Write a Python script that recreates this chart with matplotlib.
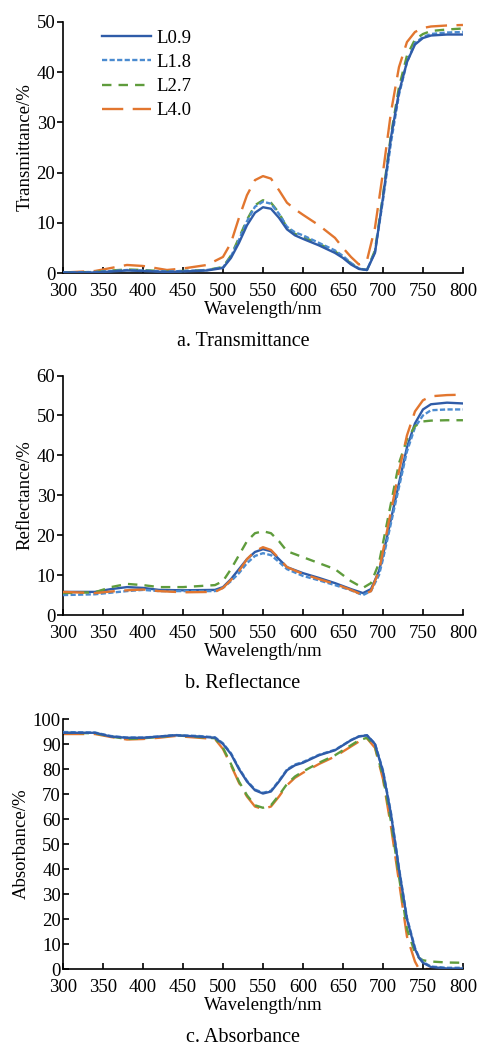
import numpy as np
from matplotlib import pyplot as plt

plt.rcParams['font.family'] = ['Liberation Serif', 'DejaVu Serif']

labels = ['L0.9', 'L1.8', 'L2.7', 'L4.0']
colors = ['#2f5ca8', '#4b8bd0', '#5f9c3c', '#e2762f']
dashes = [None, (2.2, 1.0), (4, 3), (9, 4)]

# transmittance
wl_t = [300, 340, 360, 380, 400, 430, 450, 480, 500, 510, 520, 530, 540, 550, 560, 570, 580, 590, 600,
        620, 640, 650, 660, 670, 680, 690, 700, 710, 720, 730, 740, 750, 760, 780, 800]
t_09 = [0.1, 0.1, 0.3, 0.5, 0.4, 0.2, 0.3, 0.5, 1.0, 3.0, 6.0, 9.5, 12.0, 13.1, 12.8, 11.0, 8.7, 7.5, 6.8,
        5.5, 4.0, 3.0, 1.7, 0.8, 0.6, 4.0, 15.0, 27.0, 36.0, 42.0, 45.5, 46.8, 47.3, 47.5, 47.5]
t_18 = [0.1, 0.2, 0.4, 0.6, 0.5, 0.3, 0.4, 0.6, 1.1, 3.3, 6.6, 10.3, 13.2, 14.2, 13.8, 11.8, 9.2, 8.1, 7.5,
        6.0, 4.5, 3.4, 2.0, 0.9, 0.6, 4.2, 14.5, 26.0, 35.5, 42.0, 45.8, 47.0, 47.6, 47.9, 48.0]
t_27 = [0.1, 0.2, 0.5, 0.7, 0.6, 0.3, 0.4, 0.6, 1.2, 3.5, 7.0, 10.6, 13.5, 14.5, 14.0, 12.0, 9.0, 7.8, 7.2,
        5.8, 4.3, 3.2, 1.9, 0.9, 0.6, 4.5, 15.5, 27.5, 37.0, 43.3, 46.5, 47.6, 48.2, 48.5, 48.7]
t_40 = [0.1, 0.4, 1.0, 1.6, 1.4, 0.6, 0.9, 1.6, 3.2, 6.0, 11.0, 15.5, 18.5, 19.3, 18.8, 16.5, 14.0, 12.7, 11.6,
        9.5, 7.0, 5.0, 3.2, 1.7, 2.5, 9.0, 20.0, 32.0, 41.0, 46.0, 48.0, 48.8, 49.1, 49.3, 49.4]

# reflectance
wl_r = [300, 340, 360, 380, 400, 420, 450, 490, 500, 510, 520, 530, 540, 550, 560, 570, 580, 600, 620, 640,
        660, 675, 685, 695, 700, 710, 720, 730, 740, 750, 760, 780, 800]
r_09 = [5.8, 5.8, 6.5, 7.0, 6.8, 6.3, 6.2, 6.3, 7.0, 9.0, 11.5, 14.0, 15.8, 16.5, 16.0, 14.0, 12.0, 10.5, 9.3, 8.0,
        6.5, 5.5, 6.5, 11.0, 15.0, 24.0, 33.0, 42.0, 48.0, 51.5, 52.8, 53.2, 53.0]
r_18 = [5.0, 5.2, 5.6, 6.0, 6.3, 6.0, 6.0, 6.0, 6.8, 8.5, 10.5, 13.0, 14.8, 15.5, 15.0, 13.3, 11.5, 9.8, 8.7, 7.5,
        6.2, 5.0, 6.0, 10.0, 14.0, 23.0, 32.0, 41.0, 47.0, 50.0, 51.3, 51.5, 51.5]
r_27 = [5.5, 5.7, 7.0, 7.8, 7.5, 7.0, 7.0, 7.5, 8.5, 11.5, 15.0, 18.5, 20.5, 21.0, 20.5, 18.5, 16.0, 14.5, 13.0, 11.5,
        8.5, 6.8, 8.0, 13.0, 18.0, 28.0, 38.0, 44.0, 47.3, 48.5, 48.7, 48.8, 48.8]
r_40 = [5.8, 5.5, 5.9, 6.2, 6.4, 6.0, 5.7, 5.8, 6.8, 8.8, 11.0, 14.0, 16.0, 17.0, 16.3, 14.2, 12.0, 10.3, 9.0, 7.8,
        6.3, 5.0, 6.0, 11.0, 16.0, 26.0, 36.0, 45.0, 51.0, 53.8, 54.8, 55.1, 55.2]

# absorbance
wl_a = [300, 340, 360, 380, 400, 420, 440, 470, 490, 500, 510, 520, 530, 540, 550, 560, 570, 580, 590, 600,
        620, 640, 650, 660, 670, 680, 690, 700, 710, 720, 730, 740, 745, 750, 760, 780, 800]
a_09 = [94.5, 94.5, 93.0, 92.5, 92.5, 93.0, 93.5, 93.0, 92.5, 90.0, 86.0, 80.0, 75.0, 71.5, 70.2, 71.0, 75.0, 79.5, 81.5, 82.5,
        85.5, 87.5, 89.5, 91.5, 93.0, 93.5, 90.0, 79.0, 62.0, 40.0, 20.0, 8.0, 4.5, 2.5, 0.8, 0.2, 0.2]
a_18 = [94.8, 94.6, 93.2, 92.6, 92.6, 93.0, 93.6, 93.2, 92.7, 90.3, 86.3, 80.3, 75.3, 71.8, 70.5, 71.3, 75.3, 79.8, 81.8, 82.8,
        85.7, 87.7, 89.6, 91.6, 93.1, 93.5, 90.2, 79.5, 62.5, 40.5, 20.5, 8.5, 4.8, 2.8, 1.0, 0.5, 0.5]
a_27 = [94.5, 94.3, 93.0, 92.0, 92.3, 92.8, 93.5, 92.8, 92.3, 88.5, 82.0, 75.0, 69.5, 65.5, 64.5, 65.5, 69.5, 74.0, 77.0, 79.0,
        82.5, 85.5, 87.5, 89.5, 91.5, 92.5, 89.0, 77.0, 59.0, 37.0, 16.0, 6.5, 4.5, 3.5, 3.0, 2.6, 2.5]
a_40 = [94.0, 94.0, 92.8, 91.8, 92.0, 92.5, 93.2, 92.5, 92.0, 88.0, 81.5, 74.5, 69.0, 65.0, 64.0, 65.0, 69.0, 73.5, 76.5, 78.5,
        82.0, 85.0, 87.0, 89.0, 91.0, 92.3, 88.5, 76.0, 57.0, 35.0, 13.0, 3.0, 0.0, 0.0, 0.0, 0.0, 0.0]

H = 1046.0
panels = [
    (wl_t, [t_09, t_18, t_27, t_40], 'Transmittance/%', 'a. Transmittance', (0, 50), [0.1315, 0.739, 0.835, 0.240], 'out', 342),
    (wl_r, [r_09, r_18, r_27, r_40], 'Reflectance/%', 'b. Reflectance', (0, 60), [0.1315, 0.412, 0.835, 0.229], 'out', 683),
    (wl_a, [a_09, a_18, a_27, a_40], 'Absorbance/%', 'c. Absorbance', (0, 100), [0.1315, 0.0736, 0.835, 0.239], 'in', 1037),
]

fs = 13.5
fig = plt.figure(figsize=(4.79, 10.46), dpi=100)
for k, (wl, ys, ylab, cap, ylim, pos, ydir, capy) in enumerate(panels):
    ax = fig.add_axes(pos)
    order = [3, 2, 1, 0] if k == 0 else [0, 1, 2, 3]
    for i in order:
        ln, = ax.plot(wl, ys[i], color=colors[i], lw=1.7, label=labels[i], zorder=5 - i if k != 1 else 2 + i)
        if dashes[i] is not None:
            ln.set_dashes(dashes[i])
    ax.set_xlim(300, 800)
    ax.set_ylim(*ylim)
    ax.set_xticks(np.arange(300, 801, 50))
    ax.set_yticks(np.arange(ylim[0], ylim[1] + 1, 10))
    for s in ['top', 'right']:
        ax.spines[s].set_visible(False)
    ax.spines['left'].set_linewidth(1.2)
    ax.spines['bottom'].set_linewidth(1.2)
    ax.tick_params(axis='x', direction='in', length=4, width=1.2, labelsize=fs, pad=7)
    ax.tick_params(axis='y', direction=ydir, length=4, width=1.2, labelsize=fs, pad=1.5)
    ax.set_xlabel('Wavelength/nm', fontsize=fs, labelpad=1)
    ax.set_ylabel(ylab, fontsize=fs, labelpad=2)
    fig.text(243 / 479.0, 1 - capy / H, cap, ha='center', va='center', fontsize=14.5)
    if k == 0:
        h, l = ax.get_legend_handles_labels()
        ax.legend(h[::-1], l[::-1], loc='upper left', bbox_to_anchor=(0.07, 1.015), frameon=False,
                  fontsize=fs, handlelength=2.6, labelspacing=0.38, handletextpad=0.3, borderaxespad=0.2)

plt.savefig('out.png', dpi=100)
